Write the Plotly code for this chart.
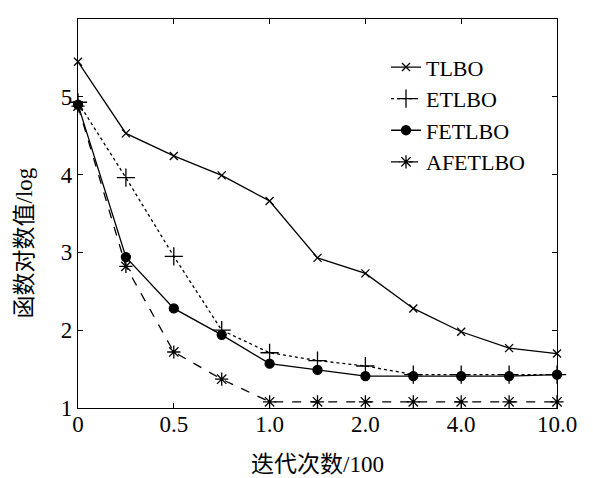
import plotly.graph_objects as go

x_index = [0, 1, 2, 3, 4, 5, 6, 7, 8, 9, 10]
tick_index = [0, 2, 4, 6, 8, 10]
tick_labels = ["0", "0.5", "1.0", "2.0", "4.0", "10.0"]
y_ticks = [1, 2, 3, 4, 5, 6]

tlbo = [5.45, 4.53, 4.24, 3.99, 3.66, 2.93, 2.73, 2.28, 1.98, 1.77, 1.70]
etlbo = [4.93, 3.96, 2.95, 2.00, 1.71, 1.61, 1.54, 1.43, 1.43, 1.43, 1.43]
fetlbo = [4.90, 2.94, 2.28, 1.94, 1.57, 1.49, 1.41, 1.41, 1.41, 1.41, 1.43]
afetlbo = [4.88, 2.82, 1.72, 1.37, 1.08, 1.08, 1.08, 1.08, 1.08, 1.08, 1.08]

series = [
    ("TLBO", tlbo, "solid", "x-thin-open", 8),
    ("ETLBO", etlbo, "dot", "cross-thin-open", 13),
    ("FETLBO", fetlbo, "solid", "circle", 9),
    ("AFETLBO", afetlbo, "dash", "asterisk-open", 11),
]

fig = go.Figure()
for name, ys, dash, sym, size in series:
    fig.add_trace(go.Scatter(
        x=x_index, y=ys, name=name, mode="lines+markers",
        line=dict(color="black", width=1.3, dash=dash),
        marker=dict(symbol=sym, size=size, color="black",
                    line=dict(color="black", width=1.3)),
        cliponaxis=False,
    ))

serif = "Liberation Serif"
mixed = "Liberation Serif, Noto Sans CJK SC"

fig.update_layout(
    width=585, height=470,
    margin=dict(l=70, r=36, t=11, b=70, autoexpand=False),
    paper_bgcolor="white", plot_bgcolor="white",
    font=dict(family=serif, size=23, color="black"),
    showlegend=True,
    legend=dict(
        x=0.643, y=0.93, xanchor="left", yanchor="top",
        bgcolor="rgba(0,0,0,0)", borderwidth=0,
        font=dict(family=serif, size=22, color="black"),
        itemwidth=30, tracegroupgap=0,
    ),
    xaxis=dict(
        range=[0, 10], tickmode="array", tickvals=tick_index, ticktext=tick_labels,
        ticks="inside", ticklen=5, tickcolor="black", tickwidth=1,
        showline=True, linecolor="black", linewidth=1.2, mirror="ticks",
        showgrid=False, zeroline=False, automargin=False,
        tickfont=dict(family=serif, size=23), ticklabelstandoff=-5,
        title=dict(text="迭代次数/100", font=dict(family=mixed, size=23), standoff=20),
    ),
    yaxis=dict(
        range=[1, 6], tickmode="array", tickvals=y_ticks,
        ticks="inside", ticklen=5, tickcolor="black", tickwidth=1,
        showline=True, linecolor="black", linewidth=1.2, mirror="ticks",
        showgrid=False, zeroline=False, automargin=False,
        tickfont=dict(family=serif, size=23),
    ),
    annotations=[dict(
        text="函数对数值/log", textangle=-90, showarrow=False,
        xref="paper", yref="paper", x=-0.111, y=0.425,
        xanchor="center", yanchor="middle",
        font=dict(family=mixed, size=23, color="black"),
    )],
)

fig.write_html("out.html")
